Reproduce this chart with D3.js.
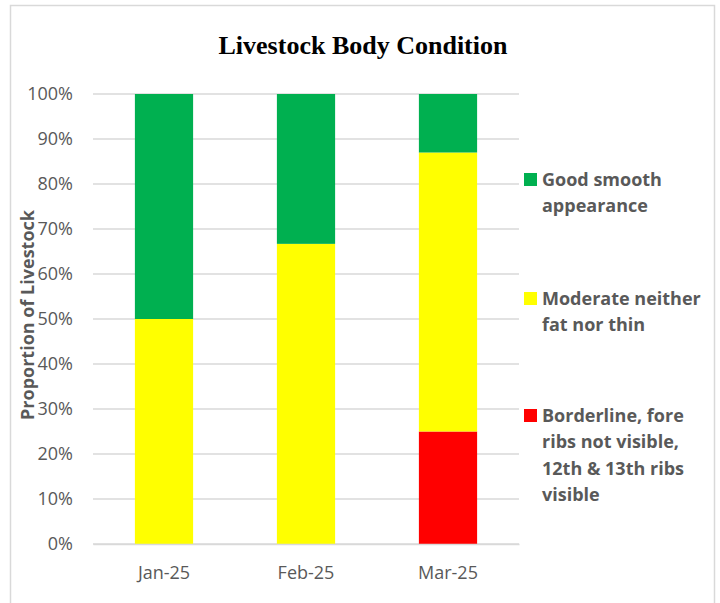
<!DOCTYPE html>
<html>
<head>
<meta charset="utf-8">
<script src="https://cdn.jsdelivr.net/npm/d3@7"></script>
<style>
  body { margin: 0; background: #fff; }
  svg { display: block; }
</style>
</head>
<body>
<svg id="chart" width="720" height="603"></svg>
<script>
// chart data (percent of livestock)
const months = ["Jan-25", "Feb-25", "Mar-25"];
const borderline = [0, 0, 25];
const moderate = [50, 66.7, 62];
const good = [50, 33.3, 13];
const yTicks = [0, 10, 20, 30, 40, 50, 60, 70, 80, 90, 100];

const seriesNames = ["Borderline", "Moderate", "Good"];
const seriesColors = { Borderline: "#ff0000", Moderate: "#ffff00", Good: "#00b050" };
const legendLines = {
    Good: ["Good smooth", "appearance"],
    Moderate: ["Moderate neither", "fat nor thin"],
    Borderline: ["Borderline, fore", "ribs not visible,", "12th & 13th ribs", "visible"]
};

let svg = d3.select("#chart");
let margin = { top: 94, left: 93 };
let plotW = 426, plotH = 450;

// outer border
svg.append("rect")
    .attr("x", 10.5).attr("y", 5.5)
    .attr("width", 704).attr("height", 620)
    .attr("fill", "none")
    .attr("stroke", "#d9d9d9")
    .attr("stroke-width", 1.5);

// title
svg.append("text")
    .attr("x", 363).attr("y", 54)
    .attr("text-anchor", "middle")
    .attr("font-family", "Liberation Serif, Times New Roman, serif")
    .attr("font-weight", "bold")
    .attr("font-size", "26px")
    .attr("fill", "#000")
    .text("Livestock Body Condition");

let g = svg.append("g")
    .attr("transform", "translate(" + margin.left + "," + margin.top + ")");

let x = d3.scaleBand()
    .domain(months)
    .range([0, plotW])
    .paddingInner(0.59)
    .paddingOuter(0.295);

let y = d3.scaleLinear()
    .domain([0, 100])
    .range([plotH, 0]);

// gridlines
g.append("g")
    .selectAll("line")
    .data(yTicks)
    .join("line")
    .attr("x1", 0).attr("x2", plotW)
    .attr("y1", d => y(d)).attr("y2", d => y(d))
    .attr("stroke", "#d9d9d9")
    .attr("stroke-width", 1.3);

// stacked bars
let rows = months.map((m, i) => ({
    month: m, Borderline: borderline[i], Moderate: moderate[i], Good: good[i]
}));
let stacked = d3.stack().keys(seriesNames)(rows);

g.append("g")
    .selectAll("g")
    .data(stacked)
    .join("g")
    .attr("fill", d => seriesColors[d.key])
    .selectAll("rect")
    .data(d => d)
    .join("rect")
    .attr("x", d => x(d.data.month))
    .attr("y", d => y(d[1]))
    .attr("width", x.bandwidth())
    .attr("height", d => y(d[0]) - y(d[1]));

// y axis labels
let yAxis = g.append("g")
    .call(d3.axisLeft(y).tickValues(yTicks).tickFormat(d => d + "%").tickSize(0).tickPadding(20));
yAxis.select(".domain").remove();
yAxis.selectAll("text")
    .attr("font-family", "Open Sans, sans-serif")
    .attr("font-size", "18px")
    .attr("fill", "#595959");

// x axis
let xAxis = g.append("g")
    .attr("transform", "translate(0," + plotH + ")")
    .call(d3.axisBottom(x).tickSize(0).tickPadding(22));
xAxis.select(".domain")
    .attr("stroke", "#d9d9d9")
    .attr("stroke-width", 1.3);
xAxis.selectAll("text")
    .attr("font-family", "Open Sans, sans-serif")
    .attr("font-size", "18px")
    .attr("fill", "#595959");

// y axis title
svg.append("text")
    .attr("transform", "translate(34,315) rotate(-90)")
    .attr("text-anchor", "middle")
    .attr("font-family", "Open Sans, sans-serif")
    .attr("font-weight", "bold")
    .attr("font-size", "18px")
    .attr("fill", "#595959")
    .text("Proportion of Livestock");

// legend
let legendTops = { Good: 173, Moderate: 292, Borderline: 409 };
let legend = svg.append("g");
["Good", "Moderate", "Borderline"].forEach(function(key) {
    let top = legendTops[key];
    legend.append("rect")
        .attr("x", 524).attr("y", top)
        .attr("width", 13).attr("height", 13)
        .attr("fill", seriesColors[key]);
    let t = legend.append("text")
        .attr("font-family", "Open Sans, sans-serif")
        .attr("font-weight", "bold")
        .attr("font-size", "18px")
        .attr("fill", "#595959");
    legendLines[key].forEach(function(line, i) {
        t.append("tspan")
            .attr("x", 542)
            .attr("y", top + 13 + i * 26.3)
            .text(line);
    });
});
</script>
</body>
</html>
